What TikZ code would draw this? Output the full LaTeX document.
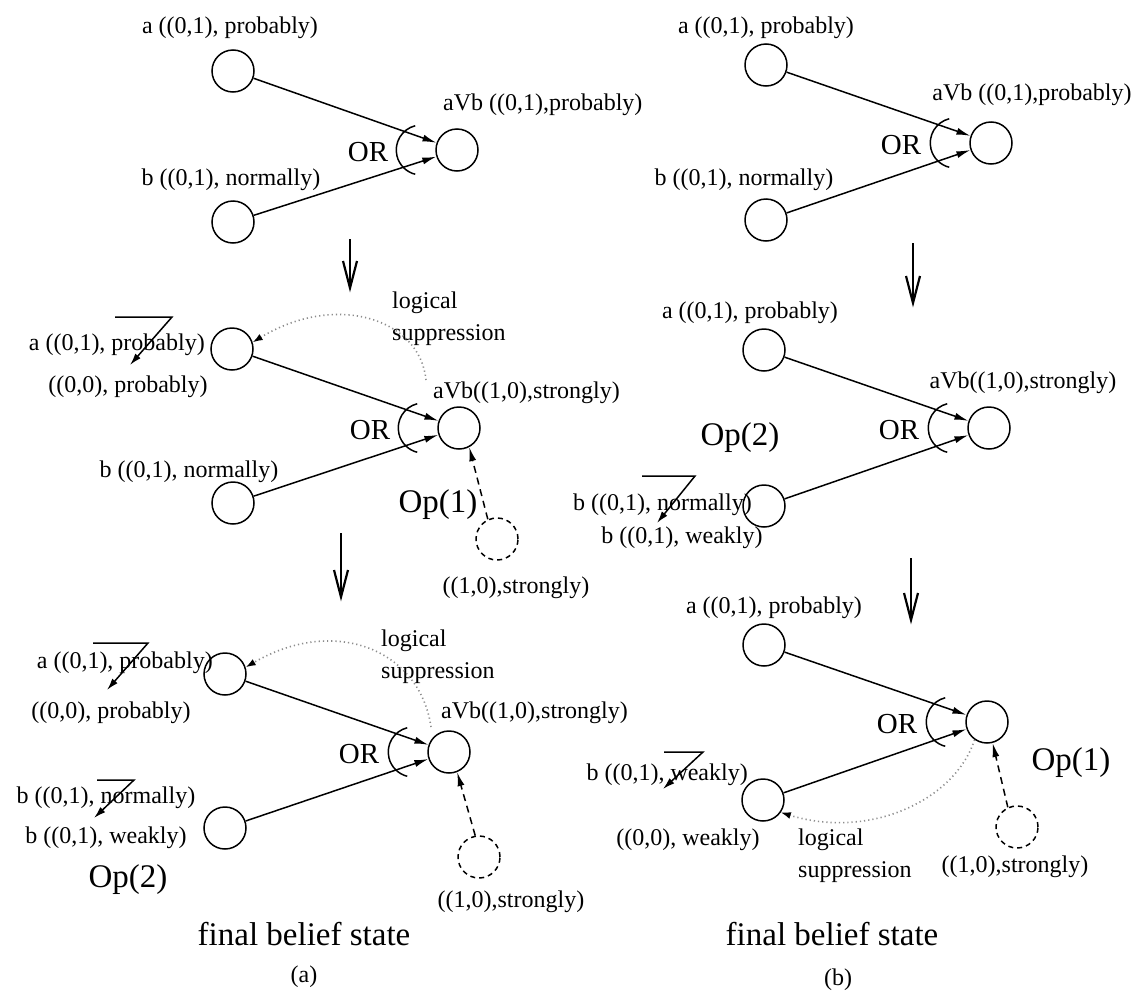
\documentclass[tikz,border=0pt]{standalone}
\usepackage{fontspec}
\setmainfont{Liberation Serif}
\usetikzlibrary{arrows.meta,calc}
\tikzset{
  nd/.style={circle,draw,line width=1.5pt,minimum size=42pt,inner sep=0pt},
  dnd/.style={nd,dash pattern=on 5pt off 4pt},
  lbl/.style={font=\fontsize{24}{32}\selectfont,inner sep=0pt},
  orlbl/.style={font=\fontsize{29}{32}\selectfont,inner sep=0pt},
  big/.style={font=\fontsize{33}{38}\selectfont,inner sep=0pt},
  arr/.style={line width=1.5pt,-{Latex[length=14pt,width=7pt]}},
  darr/.style={arr,dash pattern=on 7pt off 5pt},
  dotarr/.style={line width=1.6pt,black!45,dash pattern=on 1.2pt off 3pt,-{Latex[length=10pt,width=7pt,black]}},
  orarcstyle/.style={line width=1.5pt},
  bigdownstyle/.style={line width=2.2pt},
  strk/.style={line width=1.5pt,-{Latex[length=12pt,width=7pt]}},
}
\newcommand\ORarc[1]{\draw[orarcstyle] ($(#1.west)+(-14,0)+(104:25)$) arc[start angle=104,end angle=256,radius=25];}
\newcommand\BigDown[3]{\draw[bigdownstyle] (#1,-#2) -- (#1,-#3);
  \draw[bigdownstyle] (#1-7,-#3+27) -- (#1,-#3) -- (#1+7,-#3+27);}
\begin{document}
\begin{tikzpicture}[x=1pt,y=1pt]
\fill[white] (0,0) rectangle (1143,-996);
\useasboundingbox (0,0) rectangle (1143,-996);

%================ LEFT PANEL (a) =================
% stage 1
\node[nd] (a1) at (233,-71) {};
\node[nd] (v1) at (457,-150) {};
\node[nd] (b1) at (233,-222) {};
\node[lbl] (la1) at (230,-28) {a ((0,1), probably)};
\node[lbl,anchor=west] (lv1) at (443,-105) {aVb ((0,1),probably)};
\node[lbl] (lb1) at (231,-180) {b ((0,1), normally)};
\node[orlbl] (or1) at ($(v1)+(-89,-2)$) {OR};
\draw[arr] (a1) -- (v1);
\draw[arr] (b1) -- (v1);
\ORarc{v1}
\BigDown{350}{239}{288}

% stage 2
\node[nd] (a2) at (232,-349) {};
\node[nd] (v2) at (459,-428) {};
\node[nd] (b2) at (233,-503) {};
\node[dnd] (d2) at (497,-539) {};
\node[lbl,anchor=east] (la2) at (205,-345) {a ((0,1), probably)};
\draw[strk] (115,-317) -- (172,-317) -- (130,-365);
\node[lbl] (la2n) at (128,-387) {((0,0), probably)};
\node[lbl,anchor=west] (lv2) at (433,-393) {aVb((1,0),strongly)};
\node[lbl,anchor=west,align=left] (ls2) at (392,-319) {logical\\suppression};
\draw[dotarr] ($(v2)+(-33,48)$) .. controls (420,-318) and (335,-292) .. (a2.18);
\node[orlbl] (or2) at ($(v2)+(-89,-2)$) {OR};
\draw[arr] (a2) -- (v2);
\draw[arr] (b2) -- (v2);
\ORarc{v2}
\node[lbl] (lb2) at (189,-472) {b ((0,1), normally)};
\node[big] (op1) at (438,-505) {Op(1)};
\draw[darr] (d2.115) -- (v2.-62);
\node[lbl] (s2) at (516,-588) {((1,0),strongly)};
\BigDown{341}{533}{597}

% stage 3
\node[nd] (a3) at (225,-674) {};
\node[nd] (v3) at (449,-752) {};
\node[nd] (b3) at (225,-828) {};
\node[dnd] (d3) at (479,-857) {};
\node[lbl,anchor=east] (la3) at (213,-663) {a ((0,1), probably)};
\draw[strk] (93,-643) -- (148,-643) -- (107,-690);
\node[lbl] (la3n) at (111,-713) {((0,0), probably)};
\node[lbl,anchor=west] (lv3) at (441,-713) {aVb((1,0),strongly)};
\node[lbl,anchor=west,align=left] (ls3) at (381,-657) {logical\\suppression};
\draw[dotarr] ($(v3)+(-18,25)$) .. controls (420,-650) and (335,-615) .. (a3.18);
\node[orlbl] (or3) at ($(v3)+(-90,-2)$) {OR};
\draw[arr] (a3) -- (v3);
\draw[arr] (b3) -- (v3);
\ORarc{v3}
\node[lbl] (lb3) at (106,-798) {b ((0,1), normally)};
\draw[strk] (97,-780) -- (134,-780) -- (94,-818);
\node[lbl] (lb3w) at (106,-838) {b ((0,1), weakly)};
\node[big] (op2) at (128,-880) {Op(2)};
\draw[darr] (d3.100) -- (v3.-68);
\node[lbl] (s3) at (511,-902) {((1,0),strongly)};
\node[big] (fa) at (304,-934) {final belief state};
\node[lbl] (capa) at (304,-977) {(a)};

%================ RIGHT PANEL (b) =================
% stage 1
\node[nd] (ra1) at (766,-65) {};
\node[nd] (rv1) at (991,-143) {};
\node[nd] (rb1) at (766,-220) {};
\node[lbl] (rla1) at (766,-28) {a ((0,1), probably)};
\node[lbl] (rlv1) at (1032,-95) {aVb ((0,1),probably)};
\node[lbl] (rlb1) at (744,-180) {b ((0,1), normally)};
\node[orlbl] (ror1) at ($(rv1)+(-90,-2)$) {OR};
\draw[arr] (ra1) -- (rv1);
\draw[arr] (rb1) -- (rv1);
\ORarc{rv1}
\BigDown{913}{243}{303}

% stage 2
\node[nd] (ra2) at (764,-350) {};
\node[nd] (rv2) at (989,-428) {};
\node[nd] (rb2) at (764,-506) {};
\node[lbl] (rla2) at (750,-313) {a ((0,1), probably)};
\node[lbl] (rlv2) at (1023,-383) {aVb((1,0),strongly)};
\node[orlbl] (ror2) at ($(rv2)+(-90,-2)$) {OR};
\draw[arr] (ra2) -- (rv2);
\draw[arr] (rb2) -- (rv2);
\ORarc{rv2}
\node[big] (rop2) at (740,-438) {Op(2)};
\node[lbl,anchor=east] (rlb2) at (752,-505) {b ((0,1), normally)};
\draw[strk] (642,-476) -- (695,-476) -- (657,-523);
\node[lbl] (rlb2w) at (682,-538) {b ((0,1), weakly)};
\BigDown{911}{558}{620}

% stage 3
\node[nd] (ra3) at (764,-645) {};
\node[nd] (rv3) at (987,-722) {};
\node[nd] (rb3) at (763,-800) {};
\node[dnd] (rd3) at (1017,-827) {};
\node[lbl] (rla3) at (774,-608) {a ((0,1), probably)};
\node[orlbl] (ror3) at ($(rv3)+(-90,-2)$) {OR};
\draw[arr] (ra3) -- (rv3);
\draw[arr] (rb3) -- (rv3);
\ORarc{rv3}
\node[lbl,anchor=east] (rlb3) at (748,-775) {b ((0,1), weakly)};
\draw[strk] (664,-752) -- (703,-752) -- (663,-789);
\node[lbl] (rlb3n) at (688,-840) {((0,0), weakly)};
\draw[dotarr] (rv3.235) .. controls (955,-800) and (870,-840) .. (rb3.-35);
\node[lbl,anchor=west,align=left] (rls3) at (798,-856) {logical\\suppression};
\node[big] (rop1) at (1071,-763) {Op(1)};
\draw[darr] (rd3.115) -- (rv3.-75);
\node[lbl] (rs3) at (1015,-867) {((1,0),strongly)};
\node[big] (fb) at (832,-934) {final belief state};
\node[lbl] (capb) at (838,-980) {(b)};
\end{tikzpicture}
\end{document}
